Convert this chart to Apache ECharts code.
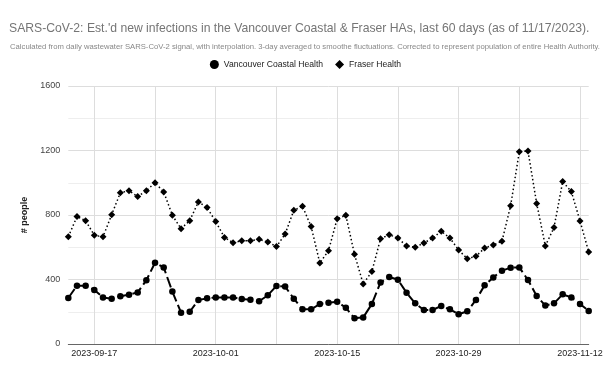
<!DOCTYPE html>
<html>
<head>
<meta charset="utf-8">
<script src="https://cdn.jsdelivr.net/npm/echarts@6/dist/echarts.min.js"></script>
<style>
  html, body { margin: 0; padding: 0; background: #fff; }
  #chart { width: 611px; height: 377px; }
</style>
</head>
<body>
<div id="chart"></div>
<script>
// daily dates, 2023-09-14 .. 2023-11-13
const dates = [
  '2023-09-14', '2023-09-15', '2023-09-16', '2023-09-17', '2023-09-18', '2023-09-19', '2023-09-20',
  '2023-09-21', '2023-09-22', '2023-09-23', '2023-09-24', '2023-09-25', '2023-09-26', '2023-09-27',
  '2023-09-28', '2023-09-29', '2023-09-30', '2023-10-01', '2023-10-02', '2023-10-03', '2023-10-04',
  '2023-10-05', '2023-10-06', '2023-10-07', '2023-10-08', '2023-10-09', '2023-10-10', '2023-10-11',
  '2023-10-12', '2023-10-13', '2023-10-14', '2023-10-15', '2023-10-16', '2023-10-17', '2023-10-18',
  '2023-10-19', '2023-10-20', '2023-10-21', '2023-10-22', '2023-10-23', '2023-10-24', '2023-10-25',
  '2023-10-26', '2023-10-27', '2023-10-28', '2023-10-29', '2023-10-30', '2023-10-31', '2023-11-01',
  '2023-11-02', '2023-11-03', '2023-11-04', '2023-11-05', '2023-11-06', '2023-11-07', '2023-11-08',
  '2023-11-09', '2023-11-10', '2023-11-11', '2023-11-12', '2023-11-13'
];

const vancouverCoastal = [
  285, 362, 362, 335, 289, 281, 296, 306, 320, 395, 504, 475, 325, 194, 200, 273,
  283, 289, 289, 289, 279, 275, 265, 302, 360, 356, 281, 215, 215, 248, 256,
  262, 225, 159, 165, 248, 382, 415, 399, 318, 252, 211, 211, 236, 215,
  184, 203, 273, 364, 413, 455, 473, 475, 397, 298, 238, 252, 308, 289, 248, 205
];

const fraser = [
  665, 790, 765, 674, 665, 802, 938, 951, 914, 951, 1000, 943, 798, 715, 765, 881,
  846, 759, 661, 628, 641, 641, 649, 633, 604, 682, 829, 854, 728, 502, 579,
  777, 798, 556, 372, 449, 653, 678, 657, 608, 600, 626, 657, 699, 657,
  583, 529, 544, 595, 614, 637, 858, 1193, 1197, 872, 608, 722, 1007, 945, 763, 571
];

const yTicks = [0, 400, 800, 1200, 1600];

const font = "Arial, 'Liberation Sans', sans-serif";

const chart = echarts.init(document.getElementById('chart'));

const option = {
  animation: false,
  textStyle: { fontFamily: font },
  title: [
    {
      text: "SARS-CoV-2: Est.'d new infections in the Vancouver Coastal & Fraser HAs, last 60 days (as of 11/17/2023).",
      left: 4,
      top: 18,
      textStyle: { fontFamily: font, fontSize: 12.2, fontWeight: 'normal', color: '#757575' }
    },
    {
      text: 'Calculated from daily wastewater SARS-CoV-2 signal, with interpolation. 3-day averaged to smoothe fluctuations. Corrected to represent population of entire Health Authority.',
      left: 5,
      top: 38,
      textStyle: { fontFamily: font, fontSize: 7.7, fontWeight: 'normal', color: '#888' }
    }
  ],
  legend: {
    top: 55,
    left: 'center',
    itemWidth: 9,
    itemHeight: 9,
    itemGap: 12,
    textStyle: { fontFamily: font, fontSize: 8.6, color: '#222' },
    data: [
      { name: 'Vancouver Coastal Health', icon: 'circle' },
      { name: 'Fraser Health', icon: 'diamond' }
    ]
  },
  grid: {
    left: 68.3,
    right: 22.3,
    top: 86,
    bottom: 33
  },
  xAxis: {
    type: 'category',
    data: dates,
    boundaryGap: false,
    axisLine: { lineStyle: { color: '#666', width: 1 } },
    axisTick: { show: false },
    axisLabel: {
      interval: (i) => (i - 3) % 14 === 0,
      fontSize: 9,
      color: '#222',
      margin: 5
    },
    splitLine: {
      show: true,
      interval: (i) => (i - 3) % 7 === 0,
      lineStyle: { color: '#ddd', width: 1 }
    }
  },
  yAxis: {
    type: 'value',
    min: yTicks[0],
    max: yTicks[yTicks.length - 1],
    interval: 400,
    name: '# people',
    nameLocation: 'middle',
    nameGap: 37,
    nameTextStyle: { fontFamily: font, fontSize: 9, fontWeight: 'bold', color: '#222' },
    axisLine: { show: false },
    axisTick: { show: false },
    axisLabel: { fontSize: 9, color: '#444', margin: 8, formatter: (v) => String(v) },
    splitLine: { lineStyle: { color: '#ddd', width: 1 } },
    minorTick: { show: false, splitNumber: 2 },
    minorSplitLine: { show: true, lineStyle: { color: '#eee', width: 1 } }
  },
  series: [
    {
      name: 'Vancouver Coastal Health',
      type: 'line',
      data: vancouverCoastal,
      symbol: 'circle',
      symbolSize: 6.5,
      showAllSymbol: true,
      itemStyle: { color: '#000' },
      lineStyle: { color: '#000', width: 2, type: [11, 4] }
    },
    {
      name: 'Fraser Health',
      type: 'line',
      data: fraser,
      symbol: 'diamond',
      symbolSize: 7,
      showAllSymbol: true,
      itemStyle: { color: '#000' },
      lineStyle: { color: '#000', width: 1.5, type: [1.5, 2.5] }
    }
  ]
};

chart.setOption(option);
</script>
</body>
</html>
